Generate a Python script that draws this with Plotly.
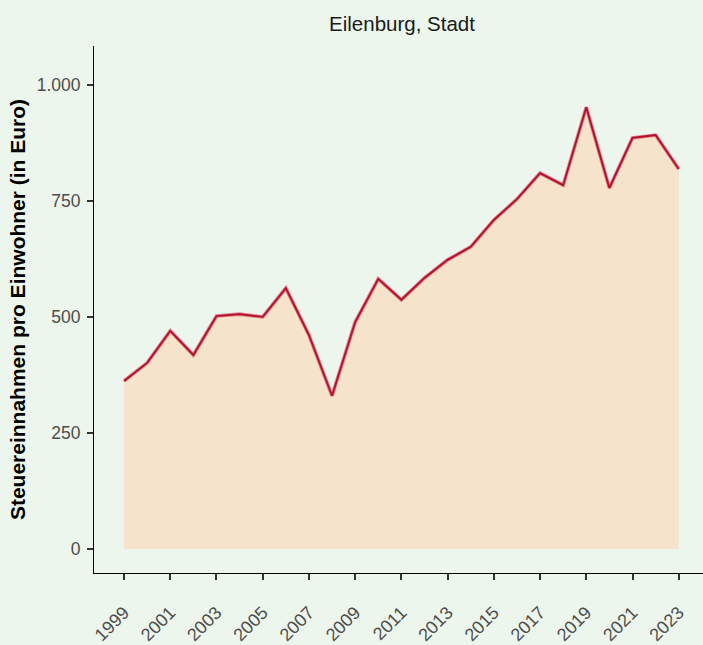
import plotly.graph_objects as go

years = list(range(1999, 2024))
values = [362, 401, 470, 418, 502, 506, 500, 562, 461, 330, 489, 582, 537, 584,
          623, 651, 709, 754, 810, 784, 952, 778, 886, 892, 819]
y_ticks = [0, 250, 500, 750, 1000]
y_tick_labels = ["0", "250", "500", "750", "1.000"]
x_ticks = list(range(1999, 2024, 2))

title_text = "Eilenburg, Stadt"
y_title = "Steuereinnahmen pro Einwohner (in Euro)"

fig = go.Figure()
fig.add_trace(go.Scatter(x=years, y=values, fill="tozeroy", mode="none",
                         fillcolor="#F5E3CB", showlegend=False, hoverinfo="skip"))
fig.add_trace(go.Scatter(x=years, y=values, mode="lines",
                         line=dict(color="rgba(214,80,100,0.7)", width=3.6),
                         showlegend=False, hoverinfo="skip"))
fig.add_trace(go.Scatter(x=years, y=values, mode="lines",
                         line=dict(color="#B20F2C", width=1.8),
                         showlegend=False))

fig.update_layout(
    template="none",
    width=703, height=645,
    paper_bgcolor="#EDF6EC", plot_bgcolor="#EDF6EC",
    margin=dict(l=94, r=0, t=46, b=72, pad=0),
    font=dict(family="Liberation Sans, Arial, sans-serif", size=18, color="#4D4D4D"),
    title=dict(text=title_text, x=402/703, xanchor="center", xref="container",
               y=1 - 24/645, yanchor="middle", yref="container",
               font=dict(size=20.5, color="#1A1A1A")),
    showlegend=False,
)
fig.update_xaxes(range=[1997.7, 2024.05], tickvals=x_ticks, ticktext=[str(t) for t in x_ticks],
                 tickangle=-45, ticks="outside", ticklen=6, tickwidth=1.5, tickcolor="#333333",
                 showline=True, linecolor="#000000", linewidth=1, showgrid=False, zeroline=False,
                 automargin=False, ticklabelstandoff=15,
                 tickfont=dict(size=18, color="#4D4D4D"))
fig.update_yaxes(range=[-52, 1084], tickvals=y_ticks, ticktext=y_tick_labels,
                 ticks="outside", ticklen=6, tickwidth=1.5, tickcolor="#333333",
                 showline=True, linecolor="#000000", linewidth=1, showgrid=False, zeroline=False,
                 automargin=False, ticklabelstandoff=3,
                 tickfont=dict(size=17.5, color="#4D4D4D"),
                 title=dict(text="<b>" + y_title + "</b>", font=dict(size=21, color="#000000"),
                            standoff=5))

fig.write_html("out.html", config={"displayModeBar": False})
with open("out.html", "r", encoding="utf-8") as f:
    html = f.read()
html = html.replace("<body>", '<body style="margin:0;padding:0;overflow:hidden;">', 1)
with open("out.html", "w", encoding="utf-8") as f:
    f.write(html)
